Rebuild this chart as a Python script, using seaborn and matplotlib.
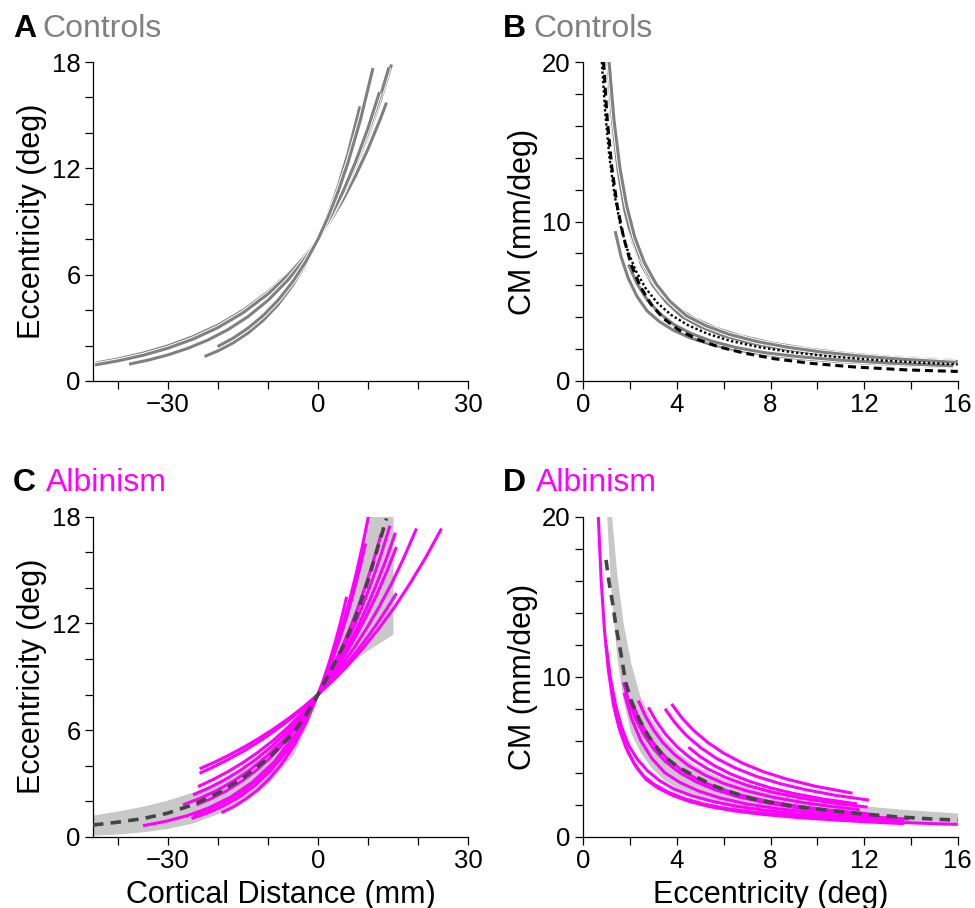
import numpy as np
import pandas as pd
import seaborn as sns
import matplotlib
matplotlib.use("Agg")
import matplotlib.pyplot as plt
import matplotlib.patheffects as pe

# ---------------- DATA ----------------
# Panel A: controls, eccentricity (deg) vs cortical distance (mm)
a_x = [
    [-44.6, -40, -35, -30, -25, -20, -15, -10, -6, -3, 0, 2.5, 5, 7.5, 10, 12.5, 14.7],
    [-44.3, -40, -35, -30, -25, -20, -15, -10, -6, -3, 0, 2.5, 5, 7.5, 10, 12.5, 13.7],
    [-44.6, -40, -35, -30, -25, -20, -15, -10, -6, -3, 0, 2.5, 5, 7.5, 10, 12.5, 14.2],
    [-37.8, -34, -30, -26, -22, -18, -14, -10, -6, -3, 0, 2.5, 5, 7.5, 10, 12.3],
    [-22.7, -20, -17, -14, -11, -8, -5, -2.5, 0, 2, 4, 6, 8.4],
    [-20.1, -17, -14, -11, -8, -5, -2.5, 0, 2, 4, 6, 8.5, 11],
]
a_y = [
    [0.957, 1.19, 1.511, 1.918, 2.434, 3.087, 3.916, 4.97, 6.01, 6.935, 8.0, 9.17, 10.51, 12.05, 13.82, 15.84, 17.86],
    [1.02, 1.245, 1.571, 1.982, 2.501, 3.156, 3.982, 5.025, 6.052, 6.958, 8.0, 9.05, 10.23, 11.58, 13.09, 14.81, 15.71],
    [0.908, 1.137, 1.45, 1.852, 2.363, 3.016, 3.849, 4.912, 5.97, 6.911, 8.0, 9.2, 10.58, 12.17, 14.0, 16.1, 17.7],
    [0.95, 1.177, 1.474, 1.848, 2.315, 2.90, 3.634, 4.553, 5.704, 6.755, 8.0, 9.25, 10.68, 12.35, 14.27, 16.3],
    [1.38, 1.70, 2.146, 2.707, 3.414, 4.307, 5.433, 6.593, 8.0, 9.36, 10.96, 12.83, 15.5],
    [1.94, 2.414, 2.983, 3.685, 4.553, 5.624, 6.708, 8.0, 9.24, 10.67, 12.32, 14.75, 17.66],
]

# Panel B: controls, CM (mm/deg) vs eccentricity (deg)
b_x = [
    [1.0, 1.189, 1.414, 1.682, 2.0, 2.378, 2.828, 3.364, 4.0, 4.757, 5.657, 6.727, 8.0, 9.47, 11.21, 13.26, 15.7],
    [1.05, 1.249, 1.485, 1.766, 2.1, 2.497, 2.970, 3.532, 4.2, 4.995, 5.94, 7.064, 8.4, 9.87, 11.59, 13.62, 16],
    [2.0, 2.378, 2.828, 3.364, 4.0, 4.757, 5.657, 6.727, 8.0, 9.514, 11.31, 13.45, 16],
    [1.1, 1.308, 1.556, 1.850, 2.2, 2.616, 3.111, 3.70, 4.4, 5.232, 6.223, 7.4, 8.8, 10.2, 11.83, 13.71, 15.9],
    [1.36, 1.617, 1.923, 2.287, 2.72, 3.235, 3.847, 4.575, 5.44, 6.469, 7.693, 9.149, 10.88, 13.11, 15.8],
    [1.93, 2.295, 2.729, 3.246, 3.86, 4.59, 5.459, 6.492, 7.72, 9.234, 11.05, 13.21, 15.8],
]
b_y = [
    [20, 16.56, 13.71, 11.35, 9.4, 7.77, 6.43, 5.32, 4.4, 3.74, 3.18, 2.70, 2.3, 1.99, 1.73, 1.50, 1.3],
    [20, 16.25, 13.2, 10.72, 8.8, 7.27, 6.01, 4.97, 4.05, 3.41, 2.86, 2.41, 2.05, 1.756, 1.515, 1.307, 1.12],
    [9.45, 7.89, 6.59, 5.50, 4.6, 3.91, 3.32, 2.82, 2.4, 2.03, 1.71, 1.44, 1.22],
    [20, 16.39, 13.43, 11.0, 9.0, 7.40, 6.08, 5.0, 4.1, 3.47, 2.93, 2.48, 2.1, 1.814, 1.567, 1.354, 1.17],
    [9.4, 7.77, 6.43, 5.32, 4.4, 3.74, 3.18, 2.70, 2.3, 1.963, 1.675, 1.43, 1.22, 1.048, 0.9],
    [7.3, 6.10, 5.09, 4.25, 3.55, 2.985, 2.51, 2.11, 1.78, 1.522, 1.30, 1.112, 0.95],
]
b_dot_x = [0.79, 0.9395, 1.117, 1.329, 1.58, 1.879, 2.235, 2.657, 3.16, 3.758, 4.469, 5.314, 6.32, 7.516, 8.938, 10.63, 12.64, 14.22, 16]
b_dot_y = [20, 16.73, 14.0, 11.71, 9.8, 8.24, 6.93, 5.83, 4.9, 4.14, 3.50, 2.96, 2.5, 2.12, 1.80, 1.53, 1.3, 1.163, 1.04]
b_dash_x = [0.86, 1.023, 1.216, 1.446, 1.72, 2.045, 2.432, 2.893, 3.44, 4.091, 4.865, 5.785, 6.88, 8.182, 9.73, 11.57, 13.76, 14.84, 16]
b_dash_y = [20, 16.38, 13.41, 10.98, 9.0, 7.30, 5.93, 4.81, 3.9, 3.19, 2.62, 2.14, 1.75, 1.39, 1.107, 0.88, 0.7, 0.648, 0.6]

# Panel C: albinism, eccentricity vs cortical distance
c_x = [
    [-23.7, -20.74, -17.8, -14.81, -11.85, -8.89, -5.9, -2.96, 0, 3.09, 6.2, 9.26, 12.35, 15.44, 18.5, 21.61, 24.7],
    [-23.7, -20.74, -17.8, -14.81, -11.85, -8.89, -5.9, -2.96, 0, 1.96, 3.9, 5.89, 7.85, 9.81, 11.8, 13.74, 15.7],
    [-24, -21, -18, -15, -12, -9, -6, -3, 0, 2.46, 4.9, 7.39, 9.85, 12.31, 14.8, 17.24, 19.7],
    [-25, -21.875, -18.75, -15.625, -12.5, -9.375, -6.25, -3.125, 0, 1.96, 3.9, 5.89, 7.85, 9.81, 11.8, 13.74, 15.7],
    [-27, -23.625, -20.25, -16.875, -13.5, -10.125, -6.75, -3.375, 0, 1.94, 3.9, 5.81, 7.75, 9.69, 11.6, 13.56, 15.5],
    [-24.3, -21.26, -18.2, -15.19, -12.15, -9.11, -6.1, -3.04, 0, 1.8, 3.6, 5.4, 7.2, 9.0, 10.8, 12.6, 14.4],
    [-35, -30.625, -26.25, -21.875, -17.5, -13.125, -8.75, -4.375, 0, 1.19, 2.4, 3.57, 4.77, 5.96, 7.15, 8.34, 9.53],
    [-25.3, -22.14, -19, -15.81, -12.65, -9.49, -6.3, -3.16, 0, 1.26, 2.5, 3.78, 5.03, 6.29, 7.55, 8.81, 10.07],
    [-19.3, -16.89, -14.5, -12.06, -9.65, -7.24, -4.8, -2.41, 0, 0.716, 1.43, 2.149, 2.87, 3.581, 4.3, 5.014, 5.73],
    [-25, -21.875, -18.75, -15.625, -12.5, -9.375, -6.25, -3.125, 0, 1.575, 3.15, 4.725, 6.3, 7.875, 9.45, 11.025, 12.6],
]
c_y = [
    [3.82, 4.186, 4.59, 5.039, 5.53, 6.06, 6.65, 7.293, 8.0, 8.812, 9.71, 10.69, 11.78, 12.97, 14.29, 15.74, 17.34],
    [3.57, 3.949, 4.37, 4.83, 5.34, 5.91, 6.54, 7.232, 8.0, 8.556, 9.15, 9.787, 10.47, 11.2, 11.98, 12.81, 13.7],
    [2.82, 3.213, 3.66, 4.17, 4.75, 5.41, 6.16, 7.022, 8.0, 8.812, 9.71, 10.69, 11.78, 12.97, 14.29, 15.74, 17.34],
    [2.35, 2.739, 3.19, 3.72, 4.34, 5.054, 5.89, 6.864, 8.0, 8.744, 9.56, 10.45, 11.42, 12.48, 13.64, 14.91, 16.3],
    [1.79, 2.158, 2.60, 3.138, 3.78, 4.563, 5.50, 6.634, 8.0, 8.797, 9.67, 10.64, 11.70, 12.86, 14.14, 15.55, 17.1],
    [1.79, 2.158, 2.60, 3.138, 3.78, 4.563, 5.50, 6.634, 8.0, 8.822, 9.73, 10.73, 11.83, 13.05, 14.39, 15.87, 17.5],
    [0.62, 0.854, 1.175, 1.618, 2.227, 3.066, 4.22, 5.811, 8.0, 8.758, 9.59, 10.5, 11.49, 12.58, 13.77, 15.07, 16.5],
    [1.03, 1.33, 1.72, 2.222, 2.87, 3.709, 4.79, 6.192, 8.0, 8.854, 9.80, 10.84, 12.0, 13.28, 14.7, 16.26, 18.0],
    [1.35, 1.686, 2.11, 2.631, 3.29, 4.106, 5.13, 6.405, 8.0, 8.541, 9.12, 9.734, 10.39, 11.09, 11.84, 12.64, 13.5],
    [1.22, 1.543, 1.95, 2.47, 3.12, 3.952, 5.0, 6.324, 8.0, 8.79, 9.66, 10.61, 11.66, 12.81, 14.08, 15.47, 17.0],
]
c_band_x = [-45, -40, -35, -30, -25, -20, -15, -10, -5, -2.5, 0, 2.5, 5, 7.5, 10, 12.5, 15]
c_band_flat = [1.22, 1.45, 1.72, 2.07, 2.52, 3.1, 3.85, 4.85, 6.2, 7.05, 8.0, 8.8, 9.45, 10.0, 10.5, 10.95, 11.4]
c_band_steep = [0.08, 0.15, 0.28, 0.47, 0.78, 1.3, 2.0, 3.0, 4.6, 6.1, 8.0, 9.9, 12.1, 14.8, 17.9, 21.5, 25.5]
c_mean_x = [-45, -40, -35, -30, -25, -20, -15, -10, -5, -2.5, 0, 2.5, 5, 7.5, 10, 12, 13.7]
c_mean_y = [0.66, 0.82, 1.02, 1.33, 1.8, 2.45, 3.3, 4.4, 5.8, 6.8, 8.0, 9.3, 10.7, 12.3, 14.4, 16.3, 17.9]

# Panel D: albinism, CM vs eccentricity
d_x = [
    [3.77, 4.2, 4.7, 5.3, 6, 6.8, 7.7, 8.7, 9.9, 11.5],
    [3.49, 3.9, 4.4, 5, 5.7, 6.5, 7.4, 8.4, 9.5, 10.8, 12.2],
    [4.49, 5, 5.6, 6.3, 7.1, 8, 9, 10.2, 11.7],
    [2.78, 3.1, 3.5, 4.0, 4.6, 5.3, 6.1, 7.0, 8.1, 9.3, 10.6, 12.15],
    [2.35, 2.65, 3.0, 3.4, 3.9, 4.5, 5.2, 6.0, 7.0, 8.1, 9.4, 10.6, 11.8],
    [2.07, 2.35, 2.7, 3.1, 3.6, 4.2, 4.9, 5.7, 6.7, 7.8, 9.1, 10.6, 12.2],
    [1.71, 1.95, 2.25, 2.6, 3.0, 3.5, 4.1, 4.8, 5.6, 6.6, 7.8, 9.1, 10.6, 12.3],
    [1.74, 2.069, 2.461, 2.926, 3.48, 4.139, 4.921, 5.852, 6.96, 8.277, 9.843, 11.71, 13.92],
    [1.35, 1.605, 1.909, 2.27, 2.7, 3.211, 3.818, 4.541, 5.4, 6.422, 7.637, 9.081, 10.8, 12.16, 13.7],
    [0.97, 1.154, 1.372, 1.631, 1.94, 2.307, 2.744, 3.263, 3.88, 4.614, 5.487, 6.525, 7.76, 8.945, 10.31, 11.89, 13.7],
    [0.64, 0.761, 0.905, 1.076, 1.28, 1.522, 1.81, 2.153, 2.56, 3.044, 3.62, 4.305, 5.12, 6.089, 7.241, 8.611, 10.24, 11.45, 12.8, 14.31, 16],
]
d_y = [
    [8.30, 7.45, 6.66, 5.91, 5.22, 4.60, 4.06, 3.60, 3.16, 2.72],
    [8.0, 7.15, 6.34, 5.58, 4.89, 4.29, 3.77, 3.32, 2.94, 2.58, 2.29],
    [5.6, 5.0, 4.44, 3.92, 3.46, 3.05, 2.70, 2.37, 2.05],
    [8.09, 7.26, 6.43, 5.63, 4.89, 4.25, 3.69, 3.21, 2.78, 2.42, 2.12, 1.85],
    [8.51, 7.55, 6.67, 5.88, 5.13, 4.44, 3.85, 3.33, 2.86, 2.47, 2.13, 1.89, 1.69],
    [8.45, 7.45, 6.48, 5.65, 4.86, 4.17, 3.57, 3.07, 2.61, 2.24, 1.92, 1.65, 1.43],
    [9.65, 8.46, 7.33, 6.35, 5.5, 4.71, 4.02, 3.44, 2.95, 2.5, 2.12, 1.81, 1.56, 1.34],
    [9.0, 7.35, 6.0, 4.90, 4.0, 3.38, 2.86, 2.42, 2.05, 1.755, 1.50, 1.285, 1.1],
    [7.9, 6.47, 5.30, 4.34, 3.55, 3.03, 2.58, 2.20, 1.88, 1.62, 1.40, 1.21, 1.04, 0.925, 0.82],
    [12.0, 9.96, 8.27, 6.87, 5.7, 4.85, 4.12, 3.50, 2.98, 2.57, 2.22, 1.91, 1.65, 1.448, 1.271, 1.116, 0.98],
    [20, 16.05, 12.88, 10.34, 8.3, 6.83, 5.62, 4.62, 3.8, 3.26, 2.79, 2.39, 2.05, 1.774, 1.535, 1.329, 1.15, 1.04, 0.941, 0.851, 0.77],
]
d_band_x = [1.0, 1.1, 1.21, 1.439, 1.711, 2.035, 2.42, 2.878, 3.422, 4.07, 4.84, 5.756, 6.845, 8.14, 9.68, 11.4, 13.5, 16]
d_band_lo = [20, 17.17, 14.74, 11.17, 8.47, 6.47, 5.31, 4.36, 3.58, 2.95, 2.46, 2.05, 1.71, 1.43, 1.244, 1.09, 0.952, 0.83]
d_band_hi = [25.1, 22.4, 20, 16.29, 13.27, 10.81, 8.8, 7.40, 6.22, 5.23, 4.4, 3.76, 3.22, 2.75, 2.35, 2.02, 1.73, 1.48]
d_mean_x = [0.97, 1.1, 1.25, 1.4, 1.6, 1.8, 2.07, 2.4, 2.8, 3.35, 4.0, 4.8, 5.6, 6.4, 7.2, 8.1, 9, 10, 11.8, 13.4, 15.1, 16]
d_mean_y = [17.3, 15.9, 14.6, 13.1, 11.5, 9.7, 8.4, 7.3, 6.25, 5.15, 4.4, 3.75, 3.17, 2.74, 2.38, 2.12, 1.9, 1.73, 1.44, 1.24, 1.09, 1.04]

# ticks
dist_ticks = [-40, -30, -20, -10, 0, 10, 20, 30]
dist_labels = ["", "\u221230", "", "", "0", "", "", "30"]
ecc_ticks = [0, 2, 4, 6, 8, 10, 12, 14, 16, 18]
ecc_labels = ["0", "", "", "6", "", "", "12", "", "", "18"]
e_ticks = [0, 2, 4, 6, 8, 10, 12, 14, 16]
e_labels = ["0", "", "4", "", "8", "", "12", "", "16"]
cm_ticks = [0, 2, 4, 6, 8, 10, 12, 14, 16, 18, 20]
cm_labels = ["0", "", "", "", "", "10", "", "", "", "", "20"]

# ---------------- STYLE ----------------
sns.set_style("ticks")
plt.rcParams["font.family"] = ["Liberation Sans", "DejaVu Sans"]
plt.rcParams["text.color"] = "black"
plt.rcParams["axes.labelcolor"] = "black"
plt.rcParams["axes.edgecolor"] = "black"
plt.rcParams["axes.linewidth"] = 0.9
plt.rcParams["xtick.major.size"] = 6
plt.rcParams["ytick.major.size"] = 6
plt.rcParams["xtick.major.width"] = 0.9
plt.rcParams["ytick.major.width"] = 0.9
plt.rcParams["xtick.color"] = "black"
plt.rcParams["ytick.color"] = "black"
plt.rcParams["xtick.labelcolor"] = "black"
plt.rcParams["ytick.labelcolor"] = "black"

GRAY = "#808080"
MAG = "#ff00ff"
BAND = "#c8c8c8"
MEAN = "#444444"
TICK_FS = 18.5
LAB_FS = 22
TITLE_FS = 23

fig = plt.figure(figsize=(9.75, 9.08), dpi=100)
axA = fig.add_axes([0.0954, 0.5804, 0.3846, 0.3513])
axB = fig.add_axes([0.5983, 0.5804, 0.3840, 0.3513])
axC = fig.add_axes([0.0954, 0.0785, 0.3846, 0.3524])
axD = fig.add_axes([0.5983, 0.0785, 0.3840, 0.3524])

outline = [pe.Stroke(linewidth=3.6, foreground="white"), pe.Normal()]


def long_df(xs, ys):
    rows = []
    for i, (xx, yy) in enumerate(zip(xs, ys)):
        for j, (a, b) in enumerate(zip(xx, yy)):
            rows.append({"x": a, "y": b, "curve": i, "order": j})
    return pd.DataFrame(rows)


def draw_curves(ax, xs, ys, color, lw, effects=None, z=2):
    df = long_df(xs, ys)
    kw = {}
    if effects is not None:
        kw["path_effects"] = effects
    sns.lineplot(data=df, x="x", y="y", units="curve", estimator=None,
                 sort=False, color=color, lw=lw, ax=ax, legend=False,
                 solid_capstyle="butt", solid_joinstyle="round", zorder=z, **kw)


def single(ax, x, y, color, lw, ls, z=5, cap="butt"):
    df = pd.DataFrame({"x": x, "y": y})
    sns.lineplot(data=df, x="x", y="y", sort=False, estimator=None,
                 color=color, lw=lw, ax=ax, legend=False, linestyle=ls,
                 zorder=z, dash_capstyle=cap)


# A
draw_curves(axA, a_x, a_y, GRAY, 2.2, outline)
# B
draw_curves(axB, b_x, b_y, GRAY, 2.2, outline)
single(axB, b_dash_x, b_dash_y, "black", 2.2, (0, (2.6, 1.6)), z=6)
single(axB, b_dot_x, b_dot_y, "black", 1.7, (0, (1.0, 1.0)), z=7)
# C
axC.fill_between(c_band_x, c_band_flat, c_band_steep, color=BAND, lw=0, zorder=1)
draw_curves(axC, c_x, c_y, MAG, 2.2)
single(axC, c_mean_x, c_mean_y, MEAN, 2.6, (0, (2.9, 2.0)), z=6)
# D
axD.fill_between(d_band_x, d_band_lo, d_band_hi, color=BAND, lw=0, zorder=1)
draw_curves(axD, d_x, d_y, MAG, 2.2)
single(axD, d_mean_x, d_mean_y, MEAN, 2.6, (0, (2.9, 2.0)), z=6)

for ax in (axA, axC):
    ax.set_xlim(-45, 30)
    ax.set_ylim(0, 18)
    ax.set_xticks(dist_ticks)
    ax.set_xticklabels(dist_labels)
    ax.set_yticks(ecc_ticks)
    ax.set_yticklabels(ecc_labels)
    ax.set_ylabel("Eccentricity (deg)", fontsize=LAB_FS)
    ax.set_xlabel("")
for ax in (axB, axD):
    ax.set_xlim(0, 16)
    ax.set_ylim(0, 20)
    ax.set_xticks(e_ticks)
    ax.set_xticklabels(e_labels)
    ax.set_yticks(cm_ticks)
    ax.set_yticklabels(cm_labels)
    ax.set_ylabel("CM (mm/deg)", fontsize=LAB_FS)
    ax.set_xlabel("")

axC.set_xlabel("Cortical Distance (mm)", fontsize=LAB_FS)
axD.set_xlabel("Eccentricity (deg)", fontsize=LAB_FS)

for ax in (axA, axB, axC, axD):
    sns.despine(ax=ax)
    ax.tick_params(labelsize=TICK_FS, pad=3)
    ax.yaxis.set_label_coords(-0.122, 0.5)
    ax.xaxis.set_label_coords(0.5, -0.135)
    ax.patch.set_alpha(0)


def title(xl, xw, ybase, letter, word, color):
    fig.text(xl / 975, 1 - ybase / 908, letter, fontsize=TITLE_FS,
             fontweight="bold", color="black", va="baseline", ha="left")
    fig.text(xw / 975, 1 - ybase / 908, word, fontsize=TITLE_FS,
             color=color, va="baseline", ha="left")


title(13, 42, 37, "A", "Controls", GRAY)
title(503, 533, 37, "B", "Controls", GRAY)
title(13, 46, 491, "C", "Albinism", MAG)
title(503, 536, 491, "D", "Albinism", MAG)

fig.savefig("out.png", dpi=100)
